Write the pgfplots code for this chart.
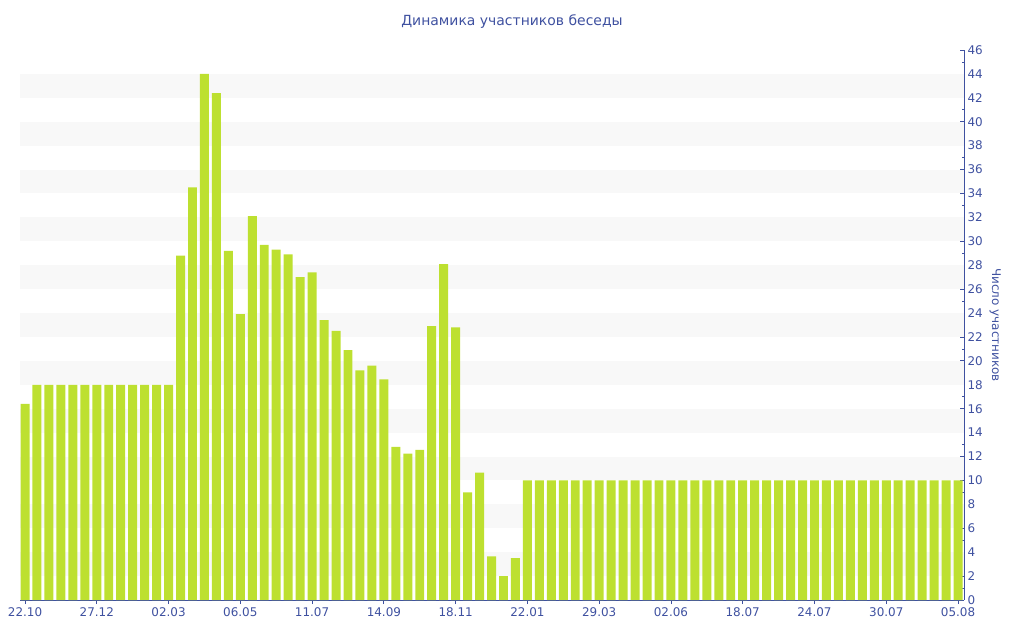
\documentclass[border=0pt]{standalone}
\usepackage{fontspec}
\setmainfont{DejaVu Sans}
\usepackage{pgfplots}
\pgfplotsset{compat=1.18}
\definecolor{barcol}{RGB}{189,224,48}
\definecolor{txtcol}{RGB}{63,81,160}
\definecolor{bandcol}{RGB}{248,248,248}
\begin{document}
\begin{tikzpicture}
\useasboundingbox (-20bp,-40bp) rectangle (1004bp,600bp);
\begin{axis}[
  at={(0,0)}, anchor=south west,
  scale only axis, width=944bp, height=550bp,
  xmin=-0.42, xmax=78.5, ymin=0, ymax=46,
  axis x line*=bottom, axis y line*=right,
  axis line style={txtcol, line width=0.8bp},
  every outer x axis line/.append style={-}, every outer y axis line/.append style={-},
  xtick={0,6,...,78},
  xticklabels={22.10,27.12,02.03,06.05,11.07,14.09,18.11,22.01,29.03,02.06,18.07,24.07,30.07,05.08},
  ytick={0,2,...,46}, minor y tick num=1,
  x tick style={txtcol, line width=0.8bp}, y tick style={txtcol, line width=0.8bp},
  xtick align=outside, ytick align=inside,
  major tick length=4bp, minor tick length=2.5bp,
  tick label style={font=\fontsize{12}{14}\selectfont, text=txtcol},
  /pgf/number format/assume math mode=true,
  ylabel={Число участников},
  ylabel style={font=\fontsize{12}{14}\selectfont, text=txtcol, rotate=180, xshift=0bp},
  ybar, bar width=0.75, bar shift=0pt,
  clip=false,
]
\pgfplotsinvokeforeach{2,6,...,42}{
  \fill[bandcol] (axis cs:-0.42,#1) rectangle (axis cs:78.5,#1+2);
}
\addplot[fill=barcol, draw=none] coordinates {
(0,16.4)(1,18)(2,18)(3,18)(4,18)(5,18)(6,18)(7,18)(8,18)(9,18)(10,18)(11,18)(12,18)
(13,28.8)(14,34.5)(15,44)(16,42.4)(17,29.2)(18,23.9)(19,32.1)(20,29.7)(21,29.3)(22,28.9)
(23,27.0)(24,27.4)(25,23.4)(26,22.5)(27,20.9)(28,19.2)(29,19.6)(30,18.45)(31,12.8)(32,12.25)
(33,12.55)(34,22.9)(35,28.1)(36,22.8)(37,9.0)(38,10.65)(39,3.65)(40,2.0)(41,3.5)
(42,10)(43,10)(44,10)(45,10)(46,10)(47,10)(48,10)(49,10)(50,10)(51,10)(52,10)(53,10)
(54,10)(55,10)(56,10)(57,10)(58,10)(59,10)(60,10)(61,10)(62,10)(63,10)(64,10)(65,10)
(66,10)(67,10)(68,10)(69,10)(70,10)(71,10)(72,10)(73,10)(74,10)(75,10)(76,10)(77,10)(78,10)
};
\end{axis}
\node[text=txtcol, font=\fontsize{14}{16}\selectfont] at (492bp,578bp) {Динамика участников беседы};
\end{tikzpicture}
\end{document}
